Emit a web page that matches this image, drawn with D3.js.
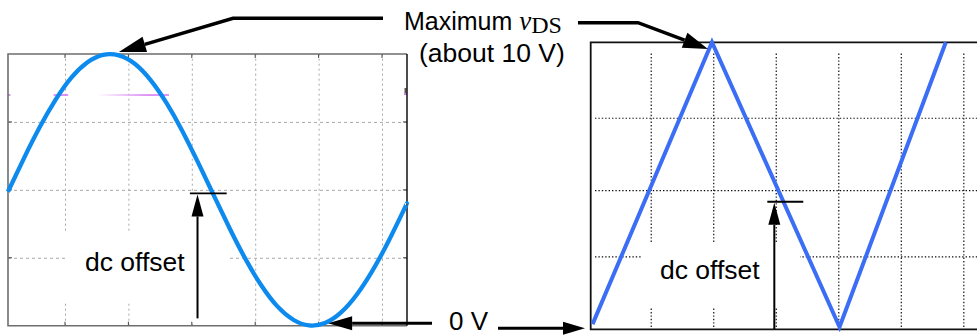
<!DOCTYPE html>
<html>
<head>
<meta charset="utf-8">
<script src="https://cdn.jsdelivr.net/npm/d3@7"></script>
<style>
  body { margin: 0; background: #fff; }
  svg { display: block; }
  text { font-family: "Liberation Sans", Arial, sans-serif; }
</style>
</head>
<body>
<svg id="chart" width="977" height="335"></svg>
<script>
// sine trace (left scope), time in divisions, volts
const sineT = [0.10, 0.35, 0.60, 0.85, 1.10, 1.35, 1.60, 1.85, 2.10, 2.35, 2.60, 2.85, 3.10,
               3.35, 3.60, 3.85, 4.10, 4.35, 4.60, 4.85, 5.10, 5.35, 5.60, 5.85, 6.10, 6.35, 6.39];
const sineV = [4.93, 6.15, 7.30, 8.31, 9.13, 9.69, 9.97, 9.95, 9.64, 9.04, 8.20, 7.17, 6.00,
               4.78, 3.57, 2.44, 1.47, 0.71, 0.22, 0.01, 0.10, 0.48, 1.14, 2.03, 3.10, 4.29, 4.49];

// triangle trace (right scope)
const triT = [0.07, 1.98, 4.02, 5.72];
const triV = [0.1, 10, 0, 10];

// grid divisions
const leftGridT = [1, 2, 3, 4, 5, 6];
const leftGridV = [2.5, 5, 7.5];
const rightGridT = [1, 2, 3, 4, 5, 6];
const rightGridV = [2.48, 4.81, 7.35];

// dc offset markers
const dcLeft = { v: 4.87, from: 2.97, to: 3.55, at: 3.09, base: 0.27 };
const dcRight = { v: 4.40, from: 2.865, to: 3.44, at: 2.977, base: -0.08 };

const svg = d3.select('#chart');

const defs = svg.append('defs');
const grad = defs.append('linearGradient').attr('id', 'fade');
grad.append('stop').attr('offset', '0%').attr('stop-color', '#fff');
grad.append('stop').attr('offset', '70%').attr('stop-color', '#d473f2');

// ---------- left scope ----------
const xL = d3.scaleLinear().domain([0.101, 6.394]).range([8, 407]);
const yL = d3.scaleLinear().domain([0, 10]).range([325.7, 54]);
const gL = svg.append('g');

gL.append('g')
  .attr('transform', `translate(0,${yL(0)})`)
  .call(d3.axisBottom(xL).tickValues(leftGridT).tickSize(-(yL(0) - yL(10))).tickFormat(() => ''))
  .call(g => g.select('.domain').remove())
  .call(g => g.selectAll('line').attr('stroke', '#a8a8a8').attr('stroke-width', 1).attr('stroke-dasharray', '2,3'));

gL.append('g')
  .attr('transform', `translate(${xL.range()[0]},0)`)
  .call(d3.axisLeft(yL).tickValues(leftGridV).tickSize(-(xL.range()[1] - xL.range()[0])).tickFormat(() => ''))
  .call(g => g.select('.domain').remove())
  .call(g => g.selectAll('line').attr('stroke', '#a8a8a8').attr('stroke-width', 1).attr('stroke-dasharray', '3,3'));

// masks behind labels
gL.append('rect').attr('x', 65).attr('y', 233).attr('width', 162).attr('height', 69).attr('fill', '#fff');
gL.append('rect').attr('x', 186).attr('y', 194).attr('width', 40).attr('height', 128).attr('fill', '#fff');

// small ticks on frame
leftGridV.forEach(v => {
  gL.append('line').attr('x1', 8).attr('x2', 12).attr('y1', yL(v)).attr('y2', yL(v)).attr('stroke', '#444');
  gL.append('line').attr('x1', 403).attr('x2', 407).attr('y1', yL(v)).attr('y2', yL(v)).attr('stroke', '#444');
});
leftGridT.forEach(t => {
  gL.append('line').attr('x1', xL(t)).attr('x2', xL(t)).attr('y1', yL(0)).attr('y2', yL(0) - 4).attr('stroke', '#444');
  gL.append('line').attr('x1', xL(t)).attr('x2', xL(t)).attr('y1', yL(10)).attr('y2', yL(10) + 4).attr('stroke', '#444');
});

// magenta trigger marks
const mY = yL(8.49);
[[0.101, 0.14], [0.82, 1.05]].forEach(([a, b]) => {
  gL.append('line').attr('x1', xL(a)).attr('x2', xL(b)).attr('y1', mY).attr('y2', mY)
    .attr('stroke', '#d473f2').attr('stroke-width', 1.5);
});
gL.append('rect').attr('x', xL(1.5)).attr('y', mY - 0.75).attr('width', xL(2.64) - xL(1.5)).attr('height', 1.5)
  .attr('fill', 'url(#fade)');
gL.append('rect').attr('x', 404.5).attr('y', mY - 7).attr('width', 2).attr('height', 7).attr('fill', '#555');
gL.append('rect').attr('x', 404.5).attr('y', mY - 2).attr('width', 2).attr('height', 2).attr('fill', '#d473f2');

// frame
gL.append('path')
  .attr('d', `M${xL.range()[1]},${yL(10)} H${xL.range()[0]} V${yL(0)} H${xL.range()[1]}`)
  .attr('fill', 'none').attr('stroke', '#6e6e6e').attr('stroke-width', 1.6);
gL.append('line').attr('x1', 407).attr('x2', 407).attr('y1', yL(10)).attr('y2', yL(0))
  .attr('stroke', '#111').attr('stroke-width', 1.5);

const sinePts = sineT.map((t, i) => [t, sineV[i]]);
gL.append('path')
  .datum(sinePts)
  .attr('fill', 'none')
  .attr('stroke', '#0d8aee')
  .attr('stroke-width', 4.3)
  .attr('d', d3.line().x(d => xL(d[0])).y(d => yL(d[1])).curve(d3.curveNatural));

// ---------- right scope ----------
const xR = d3.scaleLinear().domain([0.04, 6.31]).range([590.7, 982.7]);
const yR = d3.scaleLinear().domain([0, 10]).range([327, 42.3]);
const gR = svg.append('g');

gR.append('g')
  .attr('transform', `translate(0,${yR(0)})`)
  .call(d3.axisBottom(xR).tickValues(rightGridT).tickSize(-(yR(0) - 52)).tickFormat(() => ''))
  .call(g => g.select('.domain').remove())
  .call(g => g.selectAll('line').attr('stroke', '#111').attr('stroke-width', 1.2).attr('stroke-dasharray', '1.4,2'));

gR.append('g')
  .attr('transform', 'translate(595,0)')
  .call(d3.axisLeft(yR).tickValues(rightGridV).tickSize(-400).tickFormat(() => ''))
  .call(g => g.select('.domain').remove())
  .call(g => g.selectAll('line').attr('stroke', '#111').attr('stroke-width', 1.2).attr('stroke-dasharray', '1.4,2'));

gR.append('rect').attr('x', 642).attr('y', 243).attr('width', 158).attr('height', 64).attr('fill', '#fff');

gR.append('path')
  .attr('d', `M990,${yR(10)} H${xR(0.04)} V329.3 H990`)
  .attr('fill', 'none').attr('stroke', '#111').attr('stroke-width', 1.8);

const triPts = triT.map((t, i) => [t, triV[i]]);
gR.append('path')
  .datum(triPts)
  .attr('fill', 'none')
  .attr('stroke', '#3b6ef5')
  .attr('stroke-width', 4)
  .attr('d', d3.line().x(d => xR(d[0])).y(d => yR(d[1])));

// ---------- annotations ----------
const ann = svg.append('g');

function head(tip, from, len, half) {
  const dx = tip[0] - from[0], dy = tip[1] - from[1];
  const L = Math.hypot(dx, dy), ux = dx / L, uy = dy / L;
  const bx = tip[0] - ux * len, by = tip[1] - uy * len;
  ann.append('path')
    .attr('d', `M${tip[0]},${tip[1]} L${bx - uy * half},${by + ux * half} L${bx + uy * half},${by - ux * half} Z`)
    .attr('fill', '#000');
  return [bx, by];
}

function arrow(points, sw, len, half) {
  const tip = points[points.length - 1];
  const prev = points[points.length - 2];
  const base = head(tip, prev, len, half);
  const pts = points.slice(0, -1).concat([base]);
  ann.append('path')
    .attr('d', d3.line()(pts))
    .attr('fill', 'none').attr('stroke', '#000').attr('stroke-width', sw);
}

// maximum vDS arrows
arrow([[383, 18.3], [233, 18.3], [xL(1.85), 52]], 3.5, 27, 8);
arrow([[578, 22.7], [638, 22.7], [xR(1.98) - 4, 49]], 3.5, 25, 8);

// 0 V arrows
arrow([[432, yL(0) - 2.4], [xL(5.15), yL(0) - 2.4]], 3, 24, 7);
arrow([[498, 328.3], [585, 328.3]], 3, 22, 6.5);

// dc offset markers
gL.append('line').attr('x1', xL(dcLeft.from)).attr('x2', xL(dcLeft.to))
  .attr('y1', yL(dcLeft.v)).attr('y2', yL(dcLeft.v)).attr('stroke', '#000').attr('stroke-width', 1.8);
arrow([[xL(dcLeft.at), yL(dcLeft.base)], [xL(dcLeft.at), yL(dcLeft.v) + 1]], 2, 22, 6);

gR.append('line').attr('x1', xR(dcRight.from)).attr('x2', xR(dcRight.to))
  .attr('y1', yR(dcRight.v)).attr('y2', yR(dcRight.v)).attr('stroke', '#000').attr('stroke-width', 1.8);
arrow([[xR(dcRight.at), 329], [xR(dcRight.at), yR(dcRight.v) + 1]], 2, 22, 6);

// labels
const fs = 26.5;
ann.append('text').attr('x', 85).attr('y', 270.5).attr('font-size', fs).text('dc offset');
ann.append('text').attr('x', 660).attr('y', 279).attr('font-size', fs).text('dc offset');
ann.append('text').attr('x', 449).attr('y', 330).attr('font-size', 26).text('0 V');

const t1 = ann.append('text').attr('x', 404).attr('y', 29.5).attr('font-size', 25);
t1.append('tspan').text('Maximum ');
t1.append('tspan').attr('font-family', '"Liberation Serif", "Times New Roman", serif')
  .attr('font-style', 'italic').attr('font-size', 27).text('v');
t1.append('tspan').attr('font-family', '"Liberation Serif", "Times New Roman", serif')
  .attr('font-size', 24).attr('dy', 3).text('DS');
ann.append('text').attr('x', 419).attr('y', 61.5).attr('font-size', fs).text('(about 10 V)');
</script>
</body>
</html>
